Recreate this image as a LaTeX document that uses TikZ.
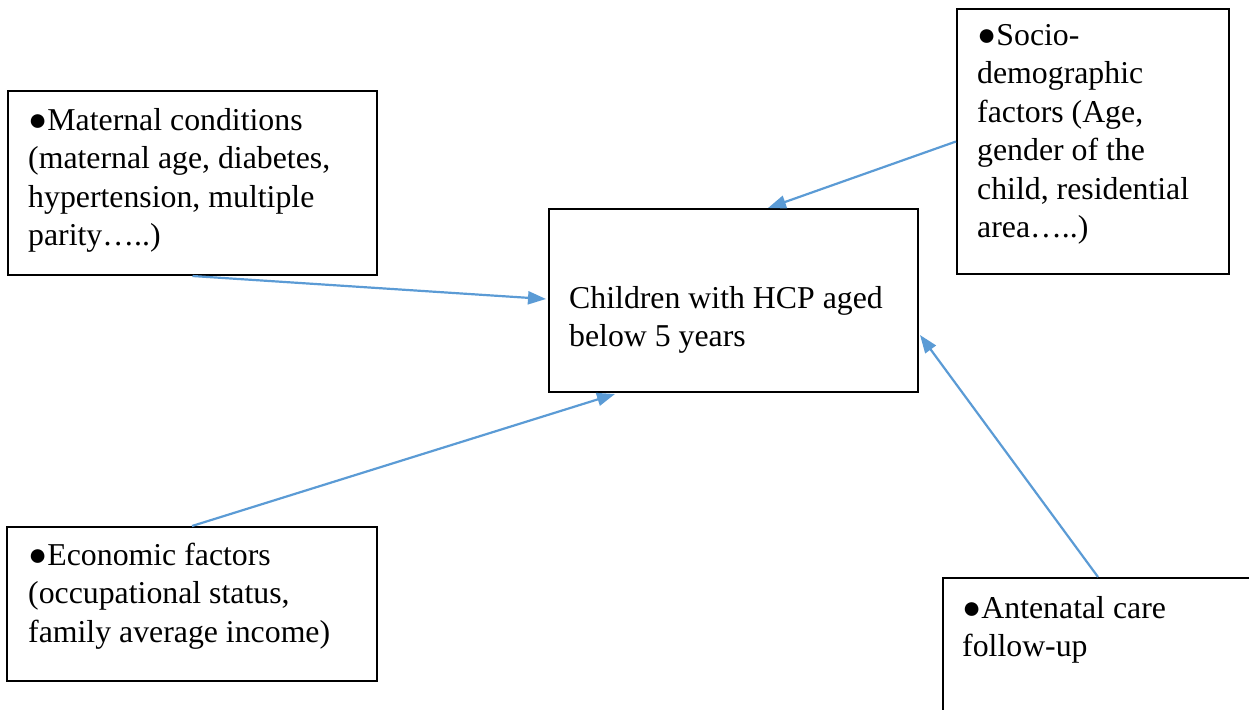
\documentclass[tikz,border=0pt]{standalone}
\usepackage{fontspec}
\setmainfont{Liberation Serif}
\usetikzlibrary{arrows.meta,calc}
\definecolor{arrowblue}{RGB}{91,155,213}
\tikzset{
  frame/.style={draw=black,line width=2pt,inner sep=0pt,anchor=north west},
  label/.style={anchor=north west,inner sep=0pt,align=left,font=\fontsize{31.8pt}{38.5pt}\selectfont},
  link/.style={draw=arrowblue,line width=2.2pt,-{Triangle[length=18pt,width=13pt]}}
}
\begin{document}
\begin{tikzpicture}[x=1pt,y=-1pt]
\useasboundingbox (0,0) rectangle (1249,709);
\clip (0,0) rectangle (1249,709);
% boxes
\node[frame,minimum width=369pt,minimum height=184pt] (mat) at (7,90) {};
\node[frame,minimum width=272pt,minimum height=265pt] (soc) at (956,8) {};
\node[frame,minimum width=369pt,minimum height=183pt] (cen) at (548,208) {};
\node[frame,minimum width=370pt,minimum height=154pt] (eco) at (6,526) {};
\node[frame,minimum width=310pt,minimum height=160pt] (ant) at (942,577) {};
% texts
\node[label] (matt) at (28,103) {\strut●Maternal conditions\\(maternal age, diabetes,\\hypertension, multiple\\parity…..)};
\node[label] (soct) at (977,18) {\strut●Socio-\\demographic\\factors (Age,\\gender of the\\child, residential\\area…..)};
\node[label] (cent) at (569,281) {\strut Children with HCP aged\\below 5 years};
\node[label] (ecot) at (28,538) {\strut●Economic factors\\(occupational status,\\family average income)};
\node[label] (antt) at (962,591) {\strut●Antenatal care\\follow-up};
% connectors
\coordinate (cenW) at ($(cen.north west)+(-2,91)$);
\coordinate (cenN) at ($(cen.north west)+(220,0)$);
\coordinate (cenS) at ($(cen.south west)+(67,1)$);
\coordinate (cenE) at ($(cen.north east)+(1,127)$);
\draw[link] (mat.south) -- (cenW);
\draw[link] (soc.west) -- (cenN);
\draw[link] (eco.north) -- (cenS);
\draw[link] (ant.north) -- (cenE);
\end{tikzpicture}
\end{document}
